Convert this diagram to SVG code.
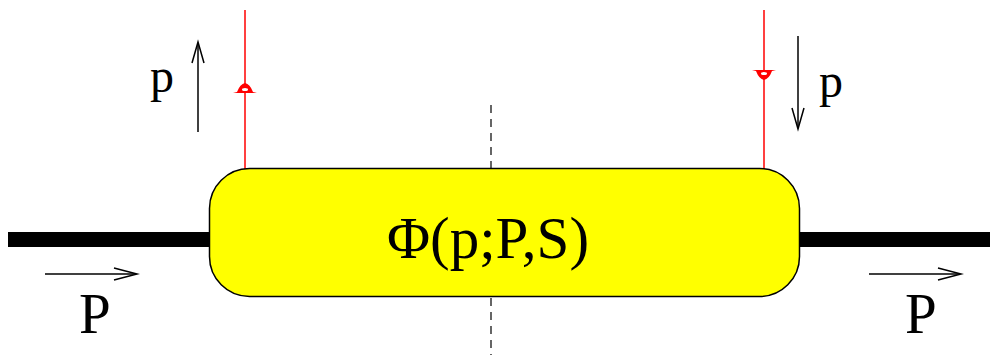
<svg xmlns="http://www.w3.org/2000/svg" width="990" height="357" viewBox="0 0 990 357">
<style>
.lbl{font-family:"Liberation Serif","Times New Roman",serif;fill:#000}
.red{stroke:#ff0000;stroke-width:1.5;fill:none}
.thin{stroke:#000;stroke-width:1.5;fill:none}
.thick{stroke:#000;stroke-width:15;fill:none}
.dash{stroke:#000;stroke-width:1.2;stroke-dasharray:8,6;fill:none}
</style>
<rect width="990" height="357" fill="#fff"/>
<g id="connectors">
<line class="thick" x1="8" y1="239.5" x2="210" y2="239.5"/>
<line class="thick" x1="799" y1="239.5" x2="990" y2="239.5"/>
<line class="red" x1="245" y1="10" x2="245" y2="169"/>
<path d="M233,93 L237,92 Q240,84 245,83 Q250,84 253,92 L257,93 Z" fill="#ff0000"/>
<ellipse cx="245" cy="89.5" rx="3" ry="1.5" fill="#fff"/>
<line class="red" x1="764" y1="10" x2="764" y2="169"/>
<path d="M752,70 L756,71 Q759,79 764,80 Q769,79 772,71 L776,70 Z" fill="#ff0000"/>
<ellipse cx="764" cy="73.5" rx="3" ry="1.5" fill="#fff"/>
<line class="dash" x1="491" y1="105" x2="491" y2="168"/>
<line class="dash" x1="491" y1="298" x2="491" y2="355"/>
</g>
<g id="arrow-p-up">
<line class="thin" x1="198" y1="132" x2="198" y2="43"/>
<path class="thin" d="M192,63 L198,42 L204,63" stroke-width="1.2"/>
</g>
<g id="arrow-p-down">
<line class="thin" x1="798" y1="36" x2="798" y2="128"/>
<path class="thin" d="M792,108 L798,129 L804,108" stroke-width="1.2"/>
</g>
<g id="arrow-P-left">
<line class="thin" x1="45" y1="274" x2="136" y2="274"/>
<path class="thin" d="M114,268 L137,274 L114,280" stroke-width="1.2"/>
</g>
<g id="arrow-P-right">
<line class="thin" x1="869" y1="274" x2="960" y2="274"/>
<path class="thin" d="M938,268 L961,274 L938,280" stroke-width="1.2"/>
</g>
<g id="node-phi">
<rect x="209.5" y="168.5" width="590" height="128" rx="40" ry="40" fill="#ffff00" stroke="#000" stroke-width="1.5"/>
<text class="lbl" x="488" y="258" font-size="59" text-anchor="middle">Φ(p;P,S)</text>
</g>
<g id="labels">
<text class="lbl" x="150" y="92" font-size="48">p</text>
<text class="lbl" x="819" y="97" font-size="48">p</text>
<text class="lbl" x="79" y="333" font-size="57">P</text>
<text class="lbl" x="905" y="333" font-size="57">P</text>
</g>
</svg>
